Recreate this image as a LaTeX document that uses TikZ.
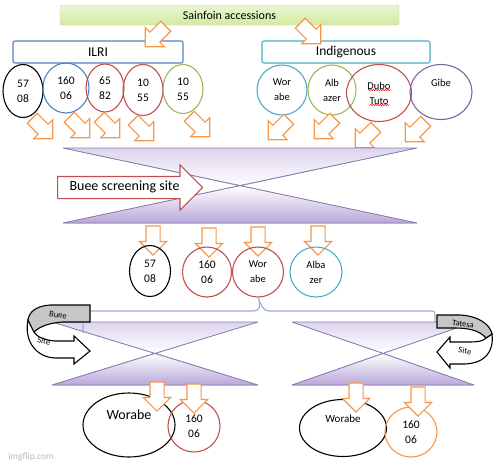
\documentclass[tikz,border=0pt]{standalone}
\usepackage{fontspec}
\setmainfont{Carlito}
\usepackage{xcolor}
\usepackage{tikz}
\usetikzlibrary{shapes.geometric,shapes.arrows,decorations.pathmorphing}

\definecolor{offblue}{HTML}{4F81BD}
\definecolor{offred}{HTML}{C0504D}
\definecolor{offgreen}{HTML}{9BBB59}
\definecolor{offteal}{HTML}{4BACC6}
\definecolor{offpurple}{HTML}{8064A2}
\definecolor{offorange}{HTML}{F79646}
\definecolor{lavdark}{HTML}{B8A7DA}
\definecolor{lavlight}{HTML}{DDD4EE}
\definecolor{hgline}{HTML}{8A7DB4}
\definecolor{bracecol}{HTML}{9AADD0}
\definecolor{greenbox}{HTML}{D3EAA0}

\begin{document}
\begin{tikzpicture}[x=1pt, y=-1pt,
    acc/.style={ellipse, draw, line width=1.1pt, inner sep=0pt, align=center,
      font=\fontsize{11.5}{15}\selectfont},
    barrow/.style={single arrow, draw=offorange, fill=white, line width=1.1pt,
      inner sep=6.5pt, minimum height=29pt, single arrow head extend=6.5pt,
      single arrow head indent=0pt},
    hourglass/.style={draw=hgline, line width=0.8pt},
    band/.style={draw=black, line width=1.1pt},
    spell/.style={red, line width=0.5pt, decorate,
      decoration={snake, amplitude=0.7pt, segment length=2.4pt}}]
                \useasboundingbox (0,0) rectangle (500,466);

                %% accessions
                \node[draw=gray!40, top color=greenbox!45, bottom color=greenbox,
                  rounded corners=2pt, minimum width=339pt, minimum height=20pt,
                  font=\fontsize{12}{13}\selectfont] (sain) at (229.5,15) {Sainfoin accessions};

                \node[draw=offblue, line width=1.1pt, rounded corners=2pt, minimum width=170pt,
                  minimum height=22pt, font=\fontsize{13.5}{15}\selectfont] (ilri) at (98,52) {ILRI};
                \node[draw=offteal, line width=1.1pt, rounded corners=2pt, minimum width=168pt,
                  minimum height=22pt, font=\fontsize{13.5}{15}\selectfont] (indi) at (346,52) {Indigenous};

                \node[barrow, rotate=225] (tarr1) at (158,34) {};
                \node[barrow, rotate=-45] (tarr2) at (308,31) {};

                %ILRI
                \node[acc, minimum width=40pt, minimum height=53pt] (ilri1) at (23,91) {57\\08};
                \node[acc, draw=offblue, minimum width=46pt, minimum height=50pt] (ilri2) at (66,88) {160\\06};
                \node[acc, draw=offred, minimum width=38pt, minimum height=48pt] (ilri3) at (105,88) {65\\82};
                \node[acc, draw=offred, minimum width=40pt, minimum height=51pt] (ilri4) at (143,90) {10\\55};
                \node[acc, draw=offgreen, minimum width=40pt, minimum height=49pt] (ilri5) at (183,89) {10\\55};

                \foreach \x/\y [count=\i] in {40/126, 77/125, 107/125, 141/128, 197/124}
                  \node[barrow, rotate=-45] (iarr\i) at (\x,\y) {};

                %Indigenous
                \node[acc, draw=offteal, minimum width=50pt, minimum height=50pt,
                  font=\fontsize{10.5}{15}\selectfont] (indi1) at (282,90) {Wor\\abe};
                \node[acc, draw=offgreen, minimum width=48pt, minimum height=50pt,
                  font=\fontsize{10.5}{15}\selectfont] (indi2) at (332,90) {Alb\\azer};
                \node[acc, draw=offred, minimum width=65pt, minimum height=57pt,
                  font=\fontsize{10.5}{15}\selectfont] (indi3) at (379,93) {Dubo\\Tuto};
                \draw[spell] (indi3.center) ++(-11,-3) -- ++(23,0);
                \draw[spell] (indi3.center) ++(-9,12) -- ++(19,0);
                \node[acc, draw=offpurple, minimum width=62pt, minimum height=55pt,
                  font=\fontsize{10.5}{15}\selectfont] (indi4) at (441,92) {Gibe\\[4pt]};

                \foreach \x/\y [count=\i] in {281/127, 327/126, 368/135, 418/129}
                  \node[barrow, rotate=225] (darr\i) at (\x,\y) {};

                %% Buee screening
                \fill[top color=lavlight, bottom color=white] (63,148) -- (417,148) -- (240,186) -- cycle;
                \fill[top color=white, bottom color=lavdark] (240,186) -- (417,223) -- (63,223) -- cycle;
                \draw[hourglass] (63,148) -- (417,148) (63,148) -- (417,223)
                  (417,148) -- (63,223) (63,223) -- (417,223);

                \node[single arrow, draw=offred, fill=white, line width=1.1pt, anchor=west,
                  single arrow head extend=11.5pt, single arrow head indent=0pt,
                  minimum height=145pt, inner ysep=5pt, text height=8.5pt, text depth=2.5pt,
                  font=\fontsize{14}{15}\selectfont] (bueearr) at (57,187.5) {Buee screening site};

                \foreach \x/\y [count=\i] in {153/237, 209/239, 258/238, 318/237}
                  \node[barrow, rotate=-90] (marr\i) at (\x,\y) {};

                \node[acc, minimum width=41pt, minimum height=51pt] (mid1) at (150,271) {57\\08};
                \node[acc, draw=offred, minimum width=49pt, minimum height=50pt] (mid2) at (207,272) {160\\06};
                \node[acc, draw=offred, minimum width=51pt, minimum height=50pt,
                  font=\fontsize{10.5}{15}\selectfont] (mid3) at (258,272) {Wor\\abe};
                \node[acc, draw=offteal, minimum width=52pt, minimum height=50pt,
                  font=\fontsize{10.5}{15}\selectfont] (mid4) at (316,272) {Alba\\zer};

                %% two sites
                \fill[top color=lavlight, bottom color=white] (52,322) -- (258,322) -- (155,353) -- cycle;
                \fill[top color=white, bottom color=lavdark] (155,353) -- (258,385) -- (52,385) -- cycle;
                \draw[hourglass] (52,322) -- (258,322) (52,322) -- (258,385)
                  (258,322) -- (52,385) (52,385) -- (258,385);

                \fill[top color=lavlight, bottom color=white] (292,322) -- (474,322) -- (383,353) -- cycle;
                \fill[top color=white, bottom color=lavdark] (383,353) -- (474,385) -- (292,385) -- cycle;
                \draw[hourglass] (292,322) -- (474,322) (292,322) -- (474,385)
                  (474,322) -- (292,385) (292,385) -- (474,385);

                \draw[bracecol, line width=1.1pt] (83,333) -- (83,317) .. controls (83,312) .. (89,311)
                  -- (254,311) .. controls (260,311) and (261,305) .. (mid3.south)
                  .. controls (261,305) and (263,311) .. (269,311) -- (429,311)
                  .. controls (435,311) .. (435,317) -- (435,322);

                %Buee site
                \filldraw[band, fill=white] (28,320) .. controls (24,340) and (35,357) .. (55,358)
                  -- (74,358) -- (74,364) -- (90,351) -- (74,336) -- (74,341) -- (55,341)
                  .. controls (44,340) and (37,337) .. (34,332) -- cycle;
                \filldraw[band, fill=gray!45] (90,305) -- (50,305) .. controls (36,306) and (29,312) .. (28,320)
                  -- (34,332) .. controls (40,326) and (50,323) .. (62,322) -- (90,322) -- cycle;
                \node[rotate=-8, font=\fontsize{8.5}{9}\selectfont] (bueetop) at (58,315) {Buee};
                \node[rotate=-12, font=\fontsize{8.5}{9}\selectfont] (bueebot) at (44,341) {Site};

                %Tatesa site
                \filldraw[band, fill=white] (492,334) .. controls (494,352) and (485,363) .. (465,364)
                  -- (450,364) -- (450,368) -- (437,352) -- (450,337) -- (450,342) -- (468,342)
                  .. controls (478,342) and (484,341) .. (486,338) -- cycle;
                \filldraw[band, fill=gray!45] (437,315) -- (460,315) .. controls (478,316) and (490,324) .. (492,334)
                  -- (486,338) .. controls (480,331) and (470,328) .. (455,328) -- (437,328) -- cycle;
                \node[rotate=-8, font=\fontsize{8.5}{9}\selectfont] (tatetop) at (463,324) {Tatesa};
                \node[rotate=-8, font=\fontsize{8.5}{9}\selectfont] (tatebot) at (465,351) {Site};

                %% results
                \node[acc, minimum width=92pt, minimum height=64pt,
                  font=\fontsize{14}{15}\selectfont] (bot1) at (129,425) {Worabe\\[6pt]};
                \node[acc, draw=offred, minimum width=52pt, minimum height=52pt] (bot2) at (194,426) {160\\06};
                \node[acc, minimum width=87pt, minimum height=57pt,
                  font=\fontsize{11}{15}\selectfont] (bot3) at (343,428) {Worabe\\[4pt]};
                \node[acc, draw=offorange, minimum width=52pt, minimum height=50pt] (bot4) at (411,432) {160\\06};

                \foreach \x/\y [count=\i] in {157/393, 194/395, 356/394, 418/398}
                  \node[barrow, rotate=-90] (barr\i) at (\x,\y) {};

                \node[text=gray!55, font=\fontsize{9.5}{10}\selectfont] (mark) at (31,457) {imgflip.com};

            \end{tikzpicture}
\end{document}
